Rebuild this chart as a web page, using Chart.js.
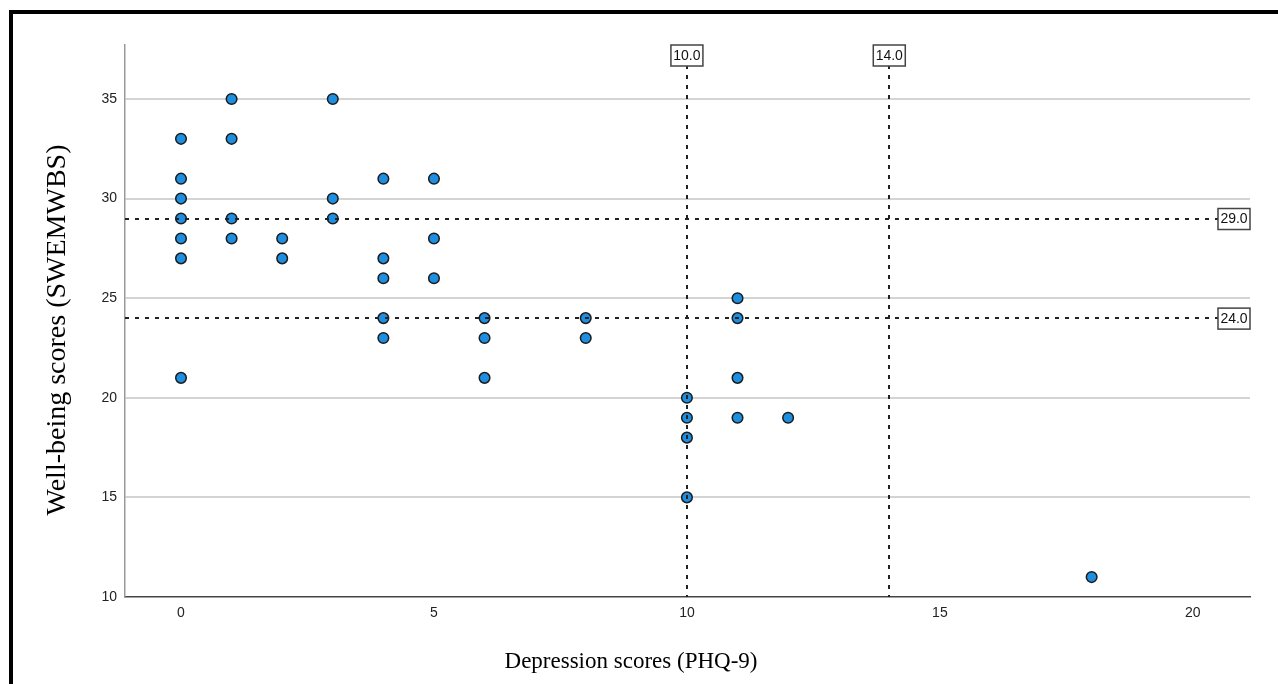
<!DOCTYPE html>
<html>
<head>
<meta charset="utf-8">
<script src="https://cdn.jsdelivr.net/npm/chart.js"></script>
<style>
  body { margin: 0; background: #fff; }
  #wrap { width: 1278px; height: 684px; }
</style>
</head>
<body>
<div id="wrap"><canvas id="chart" width="1278" height="684"></canvas></div>
<script>
// PHQ-9 (x) vs SWEMWBS (y), one entry per respondent
const phq = [0, 0, 0, 0, 0, 0, 0, 1, 1, 1, 1, 2, 2, 3, 3, 3, 4, 4, 4, 4, 4, 5, 5, 5, 6, 6, 6, 8, 8, 10, 10, 10, 10, 11, 11, 11, 11, 12, 18];
const swemwbs = [33, 31, 30, 29, 28, 27, 21, 35, 33, 29, 28, 28, 27, 35, 30, 29, 31, 27, 26, 24, 23, 31, 28, 26, 24, 23, 21, 24, 23, 20, 19, 18, 15, 25, 24, 21, 19, 19, 11];

const xTicks = [0, 5, 10, 15, 20];
const yTicks = [10, 15, 20, 25, 30, 35];

// cut-off lines
const xCutoffs = [10, 14];
const yCutoffs = [29, 24];

const xTitle = 'Depression scores (PHQ-9)';
const yTitle = 'Well-being scores (SWEMWBS)';

const tickFont = { family: 'Liberation Sans', size: 14 };

const refLines = {
  id: 'refLines',
  beforeDraw(chart) {
    const ctx = chart.ctx;
    ctx.save();
    ctx.fillStyle = '#000';
    ctx.fillRect(9, 10, chart.width, 4);
    ctx.fillRect(9, 10, 4, chart.height);
    ctx.restore();
  },
  afterDatasetsDraw(chart) {
    const ctx = chart.ctx;
    const xs = chart.scales.x, ys = chart.scales.y;
    const area = chart.chartArea;
    ctx.save();
    ctx.strokeStyle = '#222';
    ctx.lineWidth = 2;
    ctx.setLineDash([4, 6]);
    xCutoffs.forEach(v => {
      const px = Math.round(xs.getPixelForValue(v));
      ctx.beginPath();
      ctx.moveTo(px, area.top);
      ctx.lineTo(px, area.bottom);
      ctx.stroke();
    });
    yCutoffs.forEach(v => {
      const py = Math.round(ys.getPixelForValue(v));
      ctx.beginPath();
      ctx.moveTo(area.left, py);
      ctx.lineTo(area.right, py);
      ctx.stroke();
    });
    ctx.setLineDash([]);

    const box = (cx, cy, text) => {
      ctx.fillStyle = '#fff';
      ctx.fillRect(cx - 16, cy - 10, 32, 21);
      ctx.strokeStyle = '#444';
      ctx.lineWidth = 1.5;
      ctx.strokeRect(cx - 16, cy - 10, 32, 21);
      ctx.fillStyle = '#111';
      ctx.font = '14px "Liberation Sans"';
      ctx.textAlign = 'center';
      ctx.textBaseline = 'middle';
      ctx.fillText(text, cx, cy + 1);
    };
    xCutoffs.forEach(v => box(xs.getPixelForValue(v), area.top + 10, v.toFixed(1)));
    yCutoffs.forEach(v => box(area.right - 16, ys.getPixelForValue(v), v.toFixed(1)));

    // axis titles
    ctx.fillStyle = '#000';
    ctx.textAlign = 'center';
    ctx.textBaseline = 'middle';
    ctx.font = '23px "Liberation Serif"';
    ctx.fillText(xTitle, 631, 662);
    ctx.translate(58, 330);
    ctx.rotate(-Math.PI / 2);
    ctx.font = '28px "Liberation Serif"';
    ctx.fillText(yTitle, 0, 0);
    ctx.restore();
  }
};

new Chart(document.getElementById('chart'), {
  type: 'scatter',
  data: {
    datasets: [{
      data: phq.map((x, i) => ({ x: x, y: swemwbs[i] })),
      backgroundColor: '#1e8ee0',
      borderColor: '#1c1c1c',
      borderWidth: 1.5,
      pointRadius: 5.3
    }]
  },
  options: {
    responsive: false,
    animation: false,
    layout: { padding: { left: 0, top: 45, right: 28, bottom: 0 } },
    plugins: { legend: { display: false }, tooltip: { enabled: false } },
    scales: {
      x: {
        type: 'linear',
        min: -1.107,
        max: 21.13,
        grid: { display: false, drawTicks: false },
        border: { color: '#444', width: 1.5 },
        ticks: { font: tickFont, color: '#222', padding: 8 },
        afterBuildTicks: s => { s.ticks = xTicks.map(v => ({ value: v })); },
        afterFit: s => { s.height = 87; }
      },
      y: {
        min: 10,
        max: 37.71,
        grid: {
          color: c => (c.tick && c.tick.value === 10 ? 'rgba(0,0,0,0)' : '#d4d4d4'),
          lineWidth: 2,
          drawTicks: false
        },
        border: { color: '#999', width: 1.5 },
        ticks: { font: tickFont, color: '#222', padding: 8 },
        afterBuildTicks: s => { s.ticks = yTicks.map(v => ({ value: v })); },
        afterFit: s => { s.width = 125; }
      }
    }
  },
  plugins: [refLines]
});
</script>
</body>
</html>
